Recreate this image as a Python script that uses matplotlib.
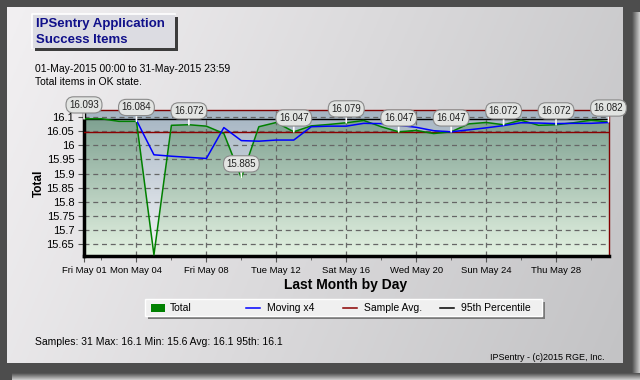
import numpy as np
import matplotlib
matplotlib.use("Agg")
import matplotlib.pyplot as plt
from matplotlib.patches import Rectangle
from matplotlib.colors import to_rgb

plt.rcParams['font.family'] = ['Liberation Sans', 'DejaVu Sans']

# --- data ---
days = list(range(1, 32))
total = [16.093, 16.093, 16.084, 16.084, 15.613, 16.070, 16.072, 16.067, 16.041, 15.885,
         16.065, 16.080, 16.047, 16.068, 16.073, 16.079, 16.087, 16.065, 16.047, 16.052,
         16.041, 16.047, 16.075, 16.080, 16.072, 16.088, 16.070, 16.072, 16.079, 16.088,
         16.082]
moving_days = list(range(4, 32))
moving = [16.088, 15.966, 15.961, 15.957, 15.953, 16.062, 16.016, 16.014, 16.018, 16.018,
          16.065, 16.067, 16.067, 16.077, 16.076, 16.070, 16.063, 16.051, 16.047, 16.054,
          16.061, 16.069, 16.079, 16.078, 16.076, 16.077, 16.077, 16.080]
sample_avg = 16.048
pct95 = 16.091
label_days = [1, 4, 7, 10, 13, 16, 19, 22, 25, 28, 31]

x_ticks = [1, 4, 8, 12, 16, 20, 24, 28]
x_labels = ["Fri May 01", "Mon May 04", "Fri May 08", "Tue May 12", "Sat May 16",
            "Wed May 20", "Sun May 24", "Thu May 28"]
x_minor = [2, 6, 10, 14, 18, 22, 26, 30]
y_ticks = [15.65, 15.7, 15.75, 15.8, 15.85, 15.9, 15.95, 16.0, 16.05, 16.1]
y_labels = ["15.65", "15.7", "15.75", "15.8", "15.85", "15.9", "15.95", "16", "16.05", "16.1"]

legend_names = ['Total', 'Moving x4', 'Sample Avg.', '95th Percentile']
legend_colors = ['#008000', '#0000ff', '#8b0000', 'black']

W, H = 640, 380
YMIN, YMAX = 15.609, 16.124


def vgrad(c_top, c_bot, n):
    t = np.linspace(0, 1, n)[:, None, None]
    a, b = np.array(to_rgb(c_top)), np.array(to_rgb(c_bot))
    return a * (1 - t) + b * t


fig = plt.figure(figsize=(6.4, 3.8), dpi=100)
fig.patch.set_facecolor('#4d4d4d')

# background panel, pixel coordinates
bg = fig.add_axes([0, 0, 1, 1], zorder=-1)
bg.set_xlim(0, W)
bg.set_ylim(H, 0)
bg.axis('off')
xx, yy = np.meshgrid(np.linspace(0, 1, 200), np.linspace(0, 1, 120))
t = (0.8 * xx + 0.2 * yy)[..., None]
panel = np.array(to_rgb('#f2f0f2')) * (1 - t) + np.array(to_rgb('#c3c3c5')) * t
bg.imshow(panel, extent=(7, 623, 363, 7), aspect='auto', zorder=1)
sh = np.linspace(0, 1, 50)[:, None]
fade = np.array(to_rgb('#4d4d4d')) * (1 - sh) + np.array(to_rgb('#cfcfcf')) * sh
bg.imshow(fade[None, :, :], extent=(632, 640, 380, 12), aspect='auto', zorder=1)
bg.imshow(fade[:, None, :], extent=(12, 640, 380, 373), aspect='auto', zorder=1)

# title box
bg.add_patch(Rectangle((35, 17), 143, 34, fc='#3c3c3c', ec='none', zorder=2))
bg.add_patch(Rectangle((32, 14), 143, 34, fc='#dcdce2', ec='none', zorder=3))
bg.plot([32, 32, 175], [48, 14, 14], color='white', lw=1.2, zorder=4)
bg.text(36, 24.5, 'IPSentry Application', fontsize=9.5, fontweight='bold', color='#10108a',
        va='center', zorder=5)
bg.text(36, 40, 'Success Items', fontsize=9.5, fontweight='bold', color='#10108a',
        va='center', zorder=5)
bg.text(35, 69.5, '01-May-2015 00:00 to 31-May-2015 23:59', fontsize=7.5, va='center', zorder=5)
bg.text(35, 81.7, 'Total items in OK state.', fontsize=7.5, va='center', zorder=5)
bg.text(35, 342, 'Samples: 31 Max: 16.1 Min: 15.6 Avg: 16.1 95th: 16.1', fontsize=7.5,
        va='center', zorder=5)
bg.text(605, 357, 'IPSentry - (c)2015 RGE, Inc.', fontsize=6.5, ha='right', va='center', zorder=5)

# legend box with evenly spaced entries
bg.add_patch(Rectangle((148, 302), 397, 17, fc='#7a7a7a', ec='none', zorder=2))
bg.add_patch(Rectangle((145, 299), 397, 17, fc='#f0f0f0', ec='white', lw=1, zorder=3))
for i, (name, col) in enumerate(zip(legend_names, legend_colors)):
    x0 = 151 + i * 97
    if i == 0:
        bg.add_patch(Rectangle((x0, 303.5), 14, 8, fc=col, ec='none', zorder=4))
    else:
        bg.plot([x0 - 2, x0 + 12], [307.5, 307.5], color=col, lw=1.1, zorder=4)
    bg.text(x0 + 19, 308, name, fontsize=7.5, va='center', zorder=5)

# main chart
ax = fig.add_axes([84 / W, 1 - 256 / H, 524.5 / W, 146 / H])

# gradient fill: green under the Total line, blue-grey above it
nx, ny = 1050, 300
xs = np.linspace(1, 31, nx)
ys = np.linspace(YMAX, YMIN, ny)
under = ys[:, None] <= np.interp(xs, days, total)[None, :]
sky = np.broadcast_to(vgrad('#a4b4c2', '#f6f6f8', ny), (ny, nx, 3))
grass = np.broadcast_to(vgrad('#789c8c', '#e4f2e2', ny), (ny, nx, 3))
ax.imshow(np.where(under[..., None], grass, sky), extent=(1, 31, YMIN, YMAX),
          aspect='auto', interpolation='bilinear', zorder=0)

ax.plot(days, total, color='#008000', lw=1.1, zorder=4)
ax.plot(moving_days, moving, color='#0000ff', lw=1.1, zorder=4)
ax.axhline(sample_avg, color='#8b0000', lw=1, zorder=3)
ax.axhline(pct95, color='black', lw=1, zorder=3)

ax.set_xlim(1, 31)
ax.set_ylim(YMIN, YMAX)
ax.set_xticks(x_ticks)
ax.set_xticklabels(x_labels)
ax.set_xticks(x_minor, minor=True)
ax.set_yticks(y_ticks)
ax.set_yticklabels(y_labels)
ax.grid(True, which='major', linestyle=(0, (4, 3)), color='#666666', lw=0.9)
for g in ax.get_xgridlines() + ax.get_ygridlines():
    g.set_zorder(2)
ax.tick_params(axis='y', length=4, color='#555555', labelsize=8, pad=3)
ax.tick_params(axis='x', which='major', length=4, color='#555555', labelsize=6.8, pad=3)
ax.tick_params(axis='x', which='minor', length=3, color='#555555')
for s in ('left', 'bottom'):
    ax.spines[s].set_color('black')
    ax.spines[s].set_linewidth(2.5)
for s in ('top', 'right'):
    ax.spines[s].set_color('#800000')
    ax.spines[s].set_linewidth(1)

ax.set_xlabel('Last Month by Day', fontsize=10, fontweight='bold')
ax.xaxis.set_label_coords(0.499, -0.151)
ax.set_ylabel('Total', fontsize=8.5, fontweight='bold')
ax.yaxis.set_label_coords(-0.0744, 0.5)

for d in label_days:
    v = total[d - 1]
    ax.annotate(f'{v:.3f}', xy=(d, v), xytext=(0, 10), textcoords='offset points',
                ha='center', va='center', fontsize=7, color='#222222',
                bbox=dict(boxstyle='round,pad=0.32,rounding_size=0.8', fc='#e2e4e2',
                          ec='#8a8a8a', lw=0.8),
                arrowprops=dict(arrowstyle='-', color='white', lw=1.2, shrinkA=0, shrinkB=0),
                annotation_clip=False, zorder=6)

fig.savefig('out.png', dpi=100, facecolor=fig.get_facecolor())
